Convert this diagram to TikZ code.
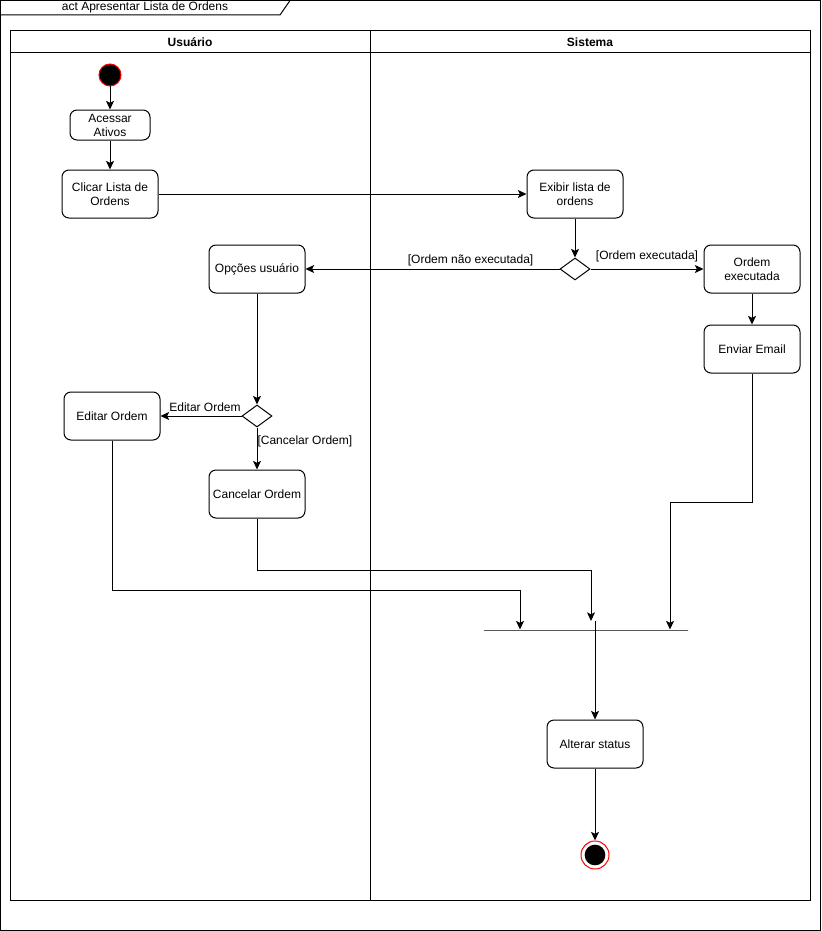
\documentclass[tikz,border=0pt]{standalone}
\usepackage{fontspec}
\setmainfont{Liberation Sans}
\usetikzlibrary{arrows.meta,shapes.geometric}
\begin{document}
\begin{tikzpicture}[x=0.75pt,y=-0.75pt,
  line width=0.75pt,
  every node/.style={font=\fontsize{9}{10.5}\selectfont},
  act/.style={draw,rounded corners=5.25pt,minimum width=72pt,minimum height=36pt,
    align=center,inner sep=1pt},
  choice/.style={draw,diamond,minimum width=22.5pt,minimum height=16.5pt,inner sep=0pt},
  flow/.style={-{Stealth[length=6.5pt,width=6pt,inset=1.5pt]}},
  lanetitle/.style={font=\fontsize{9}{10.5}\selectfont\bfseries},
  guard/.style={inner sep=1pt}
]
\useasboundingbox (0,0) rectangle (821,931);

% frame and title tab
\draw (0.5,0.5) rectangle (820,930);
\draw (0.5,15) -- (280,15) -- (290,0.5);
\node (title) at (145,7) {act Apresentar Lista de Ordens};

% swimlanes
\draw (10,31) rectangle (810,900);
\draw (10,53) -- (810,53);
\draw (370,31) -- (370,900);
\node[lanetitle] (laneU) at (190,42) {Usuário};
\node[lanetitle] (laneS) at (590,42) {Sistema};

% activity nodes
\node[circle,draw=red,fill=black,minimum size=16.5pt,inner sep=0pt] (start) at (110,75) {};
\node[act,minimum width=60pt,minimum height=22.5pt] (acessar) at (110,125) {Acessar\\Ativos};
\node[act] (clicar) at (110,194) {Clicar Lista de\\Ordens};
\node[act] (exibir) at (575,194) {Exibir lista de\\ordens};
\node[choice] (dec1) at (575,269) {};
\node[act] (ordemexec) at (752,269) {Ordem\\executada};
\node[act] (enviar) at (752,349) {Enviar Email};
\node[act] (opcoes) at (257,269) {Opções usuário};
\node[choice] (dec2) at (257,416) {};
\node[act] (editar) at (112,416) {Editar Ordem};
\node[act] (cancelar) at (257,494) {Cancelar Ordem};
\node[draw,minimum width=153pt,minimum height=0pt,inner sep=0pt] (bar) at (586,630) {};
\node[act] (alterar) at (595,744) {Alterar status};
\node[circle,draw=red,minimum size=21pt,inner sep=0pt] (endnode) at (595,855) {};
\node[circle,fill=black,minimum size=15.5pt,inner sep=0pt] (endcore) at (595,855) {};

% bends of the joining flows
\coordinate (j1) at (520,590);
\coordinate (j2) at (591,570);
\coordinate (j2e) at (591,621);
\coordinate (j3) at (670,502);
\coordinate (barout) at (595,621);

% flows
\draw[flow] (start) -- (acessar);
\draw[flow] (acessar) -- (clicar);
\draw[flow] (clicar) -- (exibir);
\draw[flow] (exibir.south) -- (dec1.north);
\draw[flow] (dec1.west) -- node[guard,above,pos=0.35,yshift=1pt] (g1) {[Ordem não executada]} (opcoes.east);
\draw[flow] (dec1.east) -- node[guard,above,pos=0.5,yshift=4pt] (g2) {[Ordem executada]} (ordemexec.west);
\draw[flow] (ordemexec) -- (enviar);
\draw[flow] (opcoes) -- (dec2);
\draw[flow] (dec2.west) -- node[guard,above,xshift=3pt,yshift=2pt] (g3) {Editar Ordem} (editar.east);
\draw[flow] (dec2.south) -- node[guard,anchor=west,pos=0.33,inner sep=0pt] (g4) {[Cancelar Ordem]} (cancelar.north);
\draw[flow] (editar.south) |- (j1) -- (j1 |- bar.north);
\draw[flow] (cancelar.south) |- (j2) -- (j2e);
\draw[flow] (enviar.south) |- (j3) -- (j3 |- bar.north);
\draw[flow] (barout) -- (alterar.north);
\draw[flow] (alterar) -- (endnode);
\end{tikzpicture}
\end{document}
